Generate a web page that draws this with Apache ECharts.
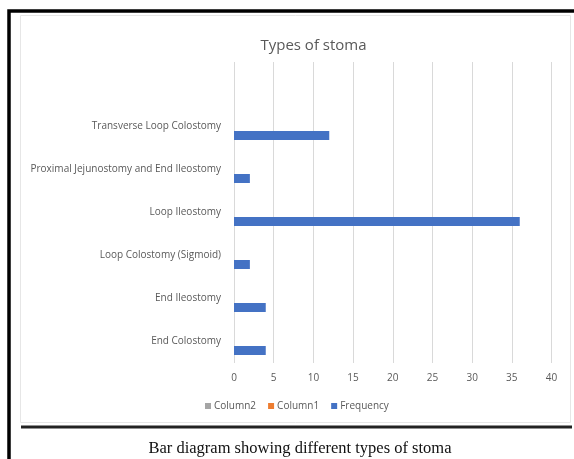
<!DOCTYPE html>
<html>
<head>
<meta charset="utf-8">
<script src="https://cdn.jsdelivr.net/npm/echarts@6/dist/echarts.min.js"></script>
<style>
  html, body { margin: 0; padding: 0; background: #fff; }
  #chart { width: 574px; height: 459px; }
</style>
</head>
<body>
<div id="chart"></div>
<script>
// Stoma types, top to bottom (the first row is left blank, as in the worksheet)
const categories = [
  '',
  'Transverse Loop Colostomy',
  'Proximal Jejunostomy and End Ileostomy',
  'Loop Ileostomy',
  'Loop Colostomy (Sigmoid)',
  'End Ileostomy',
  'End Colostomy'
];
const frequency = [null, 12, 2, 36, 2, 4, 4];
const column1 = [null, null, null, null, null, null, null];
const column2 = [null, null, null, null, null, null, null];
const xTicks = [0, 5, 10, 15, 20, 25, 30, 35, 40];

const gray = '#595959';
const font = '"Open Sans", "Noto Sans", sans-serif';

const chart = echarts.init(document.getElementById('chart'), null, { renderer: 'canvas' });

function bar(name, color, data) {
  return {
    name: name,
    type: 'bar',
    data: data,
    barWidth: 9,
    barGap: '0%',
    itemStyle: { color: color },
    emphasis: { disabled: true }
  };
}

chart.setOption({
  animation: false,
  backgroundColor: '#ffffff',
  title: [
    {
      text: 'Types of stoma',
      left: 308.5, top: 33, textAlign: 'center',
      textStyle: { fontFamily: font, fontSize: 15, fontWeight: 'normal', color: gray }
    },
    {
      text: 'Bar diagram showing different types of stoma',
      left: 295, top: 435, textAlign: 'center',
      textStyle: { fontFamily: '"Liberation Serif", "DejaVu Serif", serif', fontSize: 16.5, fontWeight: 'normal', color: '#111' }
    }
  ],
  legend: {
    data: ['Column2', 'Column1', 'Frequency'],
    left: 200, top: 396,
    icon: 'rect', itemWidth: 6, itemHeight: 6, itemGap: 12,
    textStyle: { fontFamily: font, fontSize: 10, color: gray, padding: [0, 0, 0, -2] },
    selectedMode: false
  },
  grid: { left: 234, right: 22.5, top: 62, bottom: 96, containLabel: false },
  xAxis: {
    type: 'value',
    min: xTicks[0], max: xTicks[xTicks.length - 1], interval: xTicks[1] - xTicks[0],
    axisLine: { show: false },
    axisTick: { show: false },
    axisLabel: { fontFamily: font, fontSize: 10, color: gray, margin: 10 },
    splitLine: { show: true, lineStyle: { color: '#d9d9d9', width: 1 } }
  },
  yAxis: {
    type: 'category',
    data: categories,
    inverse: true,
    axisLine: { show: false },
    axisTick: { show: false },
    axisLabel: { fontFamily: font, fontSize: 10, color: gray, margin: 13 },
    splitLine: { show: false }
  },
  series: [
    bar('Column2', '#A5A5A5', column2),
    bar('Column1', '#ED7D31', column1),
    bar('Frequency', '#4472C4', frequency)
  ],
  graphic: [
    // chart area frame
    { type: 'rect', shape: { x: 20.5, y: 15.5, width: 550, height: 407 },
      style: { fill: null, stroke: '#e6e6e6', lineWidth: 1 }, z: 0 },
    // black page frame on left and top
    { type: 'polyline', shape: { points: [[9, 459], [9, 11], [574, 11]] },
      style: { stroke: '#000', lineWidth: 3.5, fill: null }, z: 10 },
    // rule under the chart
    { type: 'rect', shape: { x: 21, y: 425.5, width: 551, height: 3 },
      style: { fill: '#222' }, z: 10 }
  ]
});
</script>
</body>
</html>
